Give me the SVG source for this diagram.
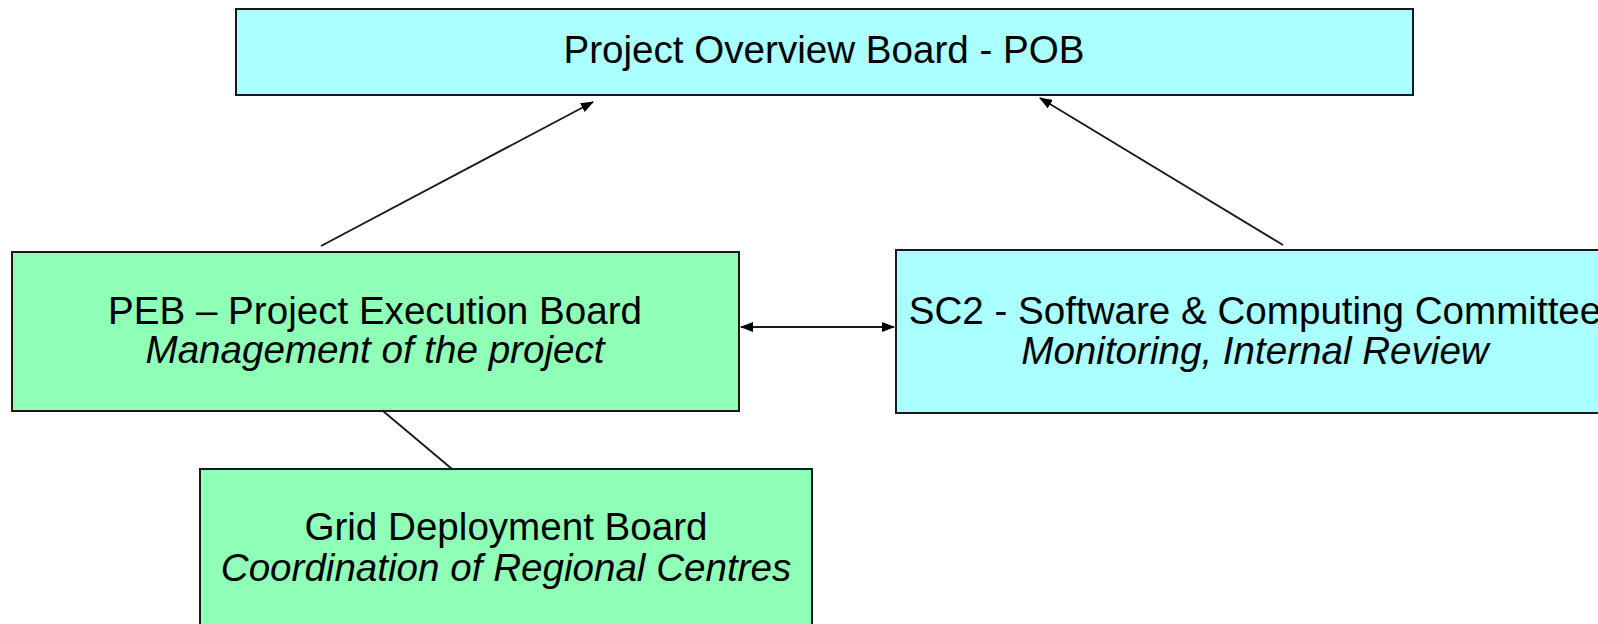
<svg xmlns="http://www.w3.org/2000/svg" width="1598" height="624" viewBox="0 0 1598 624">
  <style>
    .box { stroke: #1a1a1a; stroke-width: 2; }
    .cyan { fill: #aaffff; }
    .green { fill: #8fffb8; }
    .title { font-family: "Liberation Sans", Arial, sans-serif; font-size: 38.6px; fill: #000; text-anchor: middle; }
    .sub { font-style: italic; }
    .link { stroke: #1a1a1a; stroke-width: 1.9; fill: none; }
  </style>
  <defs>
    <marker id="arrow" viewBox="0 0 13 10" refX="12" refY="5" markerWidth="13" markerHeight="10" markerUnits="userSpaceOnUse" orient="auto-start-reverse">
      <path d="M0,0 L13,5 L0,10 Z" fill="#000"/>
    </marker>
  </defs>

  <rect width="1598" height="624" fill="#ffffff"/>

  <g id="connectors">
    <line class="link" x1="321" y1="246" x2="593" y2="102" marker-end="url(#arrow)"/>
    <line class="link" x1="1283" y1="245" x2="1040" y2="98" marker-end="url(#arrow)"/>
    <line class="link" x1="741" y1="327" x2="894" y2="327" marker-start="url(#arrow)" marker-end="url(#arrow)"/>
    <line class="link" x1="383" y1="411" x2="452" y2="469"/>
  </g>

  <g id="pob">
    <rect class="box cyan" x="236" y="9" width="1177" height="86"/>
    <text class="title" x="824" y="63">Project Overview Board - POB</text>
  </g>

  <g id="peb">
    <rect class="box green" x="12" y="252" width="727" height="159"/>
    <text class="title" x="375" y="324">PEB – Project Execution Board</text>
    <text class="title sub" x="375" y="363">Management of the project</text>
  </g>

  <g id="sc2">
    <rect class="box cyan" x="896" y="250" width="720" height="163"/>
    <text class="title" x="1255" y="324">SC2 - Software &amp; Computing Committee</text>
    <text class="title sub" x="1255" y="364">Monitoring, Internal Review</text>
  </g>

  <g id="gdb">
    <rect class="box green" x="200" y="469" width="612" height="170"/>
    <text class="title" x="506" y="540">Grid Deployment Board</text>
    <text class="title sub" x="506" y="581">Coordination of Regional Centres</text>
  </g>
</svg>
